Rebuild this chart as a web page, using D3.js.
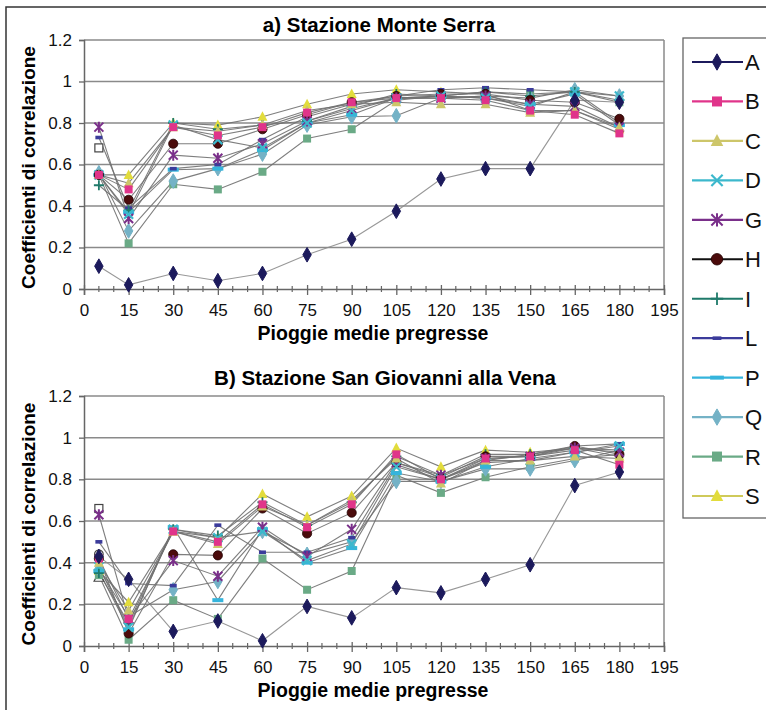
<!DOCTYPE html>
<html><head><meta charset="utf-8">
<script src="https://cdn.jsdelivr.net/npm/d3@7"></script>
<style>body{margin:0;background:#fff}svg{display:block}text{font-family:"Liberation Sans",Arial,sans-serif}</style>
</head><body>
<svg id="c" width="766" height="710"></svg>
<script>
// ---------- DATA ----------
const xValues = [5,15,30,45,60,75,90,105,120,135,150,165,180];
const xTicks = [0,15,30,45,60,75,90,105,120,135,150,165,180,195];
const yTicks = [0,0.2,0.4,0.6,0.8,1,1.2];
const seriesNames = ["A","B","C","D","G","H","I","L","P","Q","R","S"];

const topTitle = "a) Stazione Monte Serra";
const bottomTitle = "B) Stazione San Giovanni alla Vena";
const xLabel = "Pioggie medie pregresse";
const yLabel = "Coefficienti di correlazione";

// Stazione Monte Serra
const topA = [0.11,0.02,0.075,0.04,0.075,0.165,0.24,0.375,0.53,0.58,0.58,0.91,0.90];
const topB = [0.55,0.48,0.78,0.74,0.78,0.85,0.90,0.92,0.92,0.91,0.86,0.84,0.75];
const topC = [0.55,0.51,0.78,0.76,0.79,0.86,0.89,0.90,0.89,0.89,0.85,0.86,0.78];
const topD = [0.55,0.36,0.79,0.72,0.68,0.80,0.86,0.92,0.93,0.92,0.88,0.95,0.93];
const topG = [0.78,0.34,0.645,0.63,0.70,0.81,0.87,0.92,0.92,0.93,0.89,0.88,0.78];
const topH = [0.55,0.43,0.70,0.70,0.77,0.84,0.90,0.93,0.94,0.94,0.91,0.90,0.82];
const topI = [0.50,0.38,0.80,0.77,0.79,0.81,0.88,0.94,0.93,0.95,0.93,0.95,0.91];
const topL = [0.73,0.39,0.58,0.60,0.72,0.83,0.89,0.93,0.96,0.97,0.96,0.95,0.80];
const topP = [0.55,0.37,0.575,0.58,0.67,0.80,0.84,0.92,0.93,0.92,0.89,0.94,0.79];
const topQ = [0.56,0.28,0.52,0.58,0.65,0.79,0.83,0.835,0.92,0.93,0.92,0.96,0.93];
const topR = [0.55,0.22,0.505,0.48,0.565,0.725,0.77,0.91,0.93,0.95,0.94,0.95,0.90];
const topS = [0.55,0.55,0.80,0.79,0.83,0.89,0.94,0.96,0.95,0.94,0.86,0.86,0.77];
const topOpenSquare = [0.68];
const topOpenCircle = [0.55];
const topOpenTriangle = [];

// Stazione San Giovanni alla Vena
const botA = [0.43,0.32,0.07,0.12,0.025,0.19,0.135,0.28,0.255,0.32,0.39,0.77,0.835];
const botB = [0.42,0.13,0.55,0.50,0.68,0.57,0.68,0.92,0.80,0.90,0.91,0.94,0.87];
const botC = [0.40,0.17,0.55,0.49,0.67,0.58,0.70,0.90,0.78,0.89,0.89,0.91,0.90];
const botD = [0.38,0.09,0.56,0.52,0.55,0.41,0.49,0.86,0.80,0.88,0.89,0.93,0.96];
const botG = [0.63,0.13,0.41,0.335,0.57,0.43,0.56,0.88,0.82,0.90,0.91,0.95,0.93];
const botH = [0.42,0.06,0.44,0.435,0.66,0.54,0.64,0.88,0.81,0.91,0.91,0.96,0.92];
const botI = [0.35,0.11,0.56,0.53,0.69,0.58,0.69,0.91,0.82,0.92,0.92,0.95,0.94];
const botL = [0.50,0.30,0.29,0.58,0.45,0.45,0.52,0.87,0.80,0.89,0.92,0.96,0.97];
const botP = [0.36,0.08,0.57,0.22,0.56,0.40,0.47,0.83,0.79,0.86,0.90,0.93,0.97];
const botQ = [0.37,0.14,0.27,0.31,0.55,0.44,0.50,0.79,0.79,0.85,0.85,0.89,0.94];
const botR = [0.34,0.03,0.22,0.13,0.42,0.27,0.36,0.82,0.735,0.81,0.86,0.90,0.92];
const botS = [0.36,0.21,0.55,0.52,0.73,0.62,0.72,0.95,0.86,0.94,0.93,0.95,0.91];
const botOpenSquare = [0.66];
const botOpenCircle = [0.44];
const botOpenTriangle = [0.33];

// ---------- STYLE ----------
const style = {
  A:{shape:"diamond", color:"#1c1a5c", line:"#1c1a5c"},
  B:{shape:"square", color:"#e0348a", line:"#e0348a"},
  C:{shape:"triangle", color:"#cdc66a", line:"#cdc66a"},
  D:{shape:"x", color:"#3cb8cc", line:"#3cb8cc"},
  G:{shape:"asterisk", color:"#7a2f8a", line:"#7a2f8a"},
  H:{shape:"circle", color:"#4b0b0b", line:"#111"},
  I:{shape:"plus", color:"#1f7a6a", line:"#1f7a6a"},
  L:{shape:"dash", color:"#3b3b9b", line:"#3b3b9b"},
  P:{shape:"wdash", color:"#35b4dc", line:"#35b4dc"},
  Q:{shape:"diamond", color:"#74b2c6", line:"#74b2c6"},
  R:{shape:"square", color:"#6aaa86", line:"#6aaa86"},
  S:{shape:"triangle", color:"#e2dc3c", line:"#cfca5a"}
};

const topData = {A:topA,B:topB,C:topC,D:topD,G:topG,H:topH,I:topI,L:topL,P:topP,Q:topQ,R:topR,S:topS};
const botData = {A:botA,B:botB,C:botC,D:botD,G:botG,H:botH,I:botI,L:botL,P:botP,Q:botQ,R:botR,S:botS};

const svg = d3.select("#c");
const FONT = "Liberation Sans, Arial, sans-serif";

// outer frame
svg.append("path").attr("d","M6,712 L6,7 L770,7").attr("fill","none").attr("stroke","#333").attr("stroke-width",1.5);

function marker(g, shape, color, cx, cy, s) {
  s = s || 1;
  if (shape === "diamond") {
    g.append("path").attr("d", d3.symbol(d3.symbolDiamond, 62*s)()).attr("transform",`translate(${cx},${cy})`).attr("fill",color).attr("stroke",color);
  } else if (shape === "square") {
    g.append("rect").attr("x",cx-4*s).attr("y",cy-4*s).attr("width",8*s).attr("height",8*s).attr("fill",color);
  } else if (shape === "triangle") {
    g.append("path").attr("d", `M${cx},${cy-5.5*s}L${cx+5*s},${cy+4*s}L${cx-5*s},${cy+4*s}Z`).attr("fill",color);
  } else if (shape === "x") {
    const r = 4.5*s;
    g.append("path").attr("d",`M${cx-r},${cy-r}L${cx+r},${cy+r}M${cx-r},${cy+r}L${cx+r},${cy-r}`).attr("stroke",color).attr("stroke-width",2.2);
  } else if (shape === "asterisk") {
    const r = 4.5*s;
    g.append("path").attr("d",`M${cx-r},${cy-r}L${cx+r},${cy+r}M${cx-r},${cy+r}L${cx+r},${cy-r}M${cx},${cy-r-1}L${cx},${cy+r+1}`).attr("stroke",color).attr("stroke-width",2);
  } else if (shape === "circle") {
    g.append("circle").attr("cx",cx).attr("cy",cy).attr("r",4.6*s).attr("fill",color).attr("stroke","#200").attr("stroke-width",0.8);
  } else if (shape === "plus") {
    const r = 5*s;
    g.append("path").attr("d",`M${cx-r},${cy}L${cx+r},${cy}M${cx},${cy-r}L${cx},${cy+r}`).attr("stroke",color).attr("stroke-width",1.8);
  } else if (shape === "dash") {
    g.append("rect").attr("x",cx-3.5*s).attr("y",cy-1.8).attr("width",7*s).attr("height",3.6).attr("fill",color);
  } else if (shape === "wdash") {
    g.append("rect").attr("x",cx-5.5*s).attr("y",cy-2).attr("width",11*s).attr("height",4).attr("fill",color);
  } else if (shape === "osquare") {
    g.append("rect").attr("x",cx-4).attr("y",cy-4).attr("width",8).attr("height",8).attr("fill","#fff").attr("stroke","#444").attr("stroke-width",1.2);
  } else if (shape === "ocircle") {
    g.append("circle").attr("cx",cx).attr("cy",cy).attr("r",4.3).attr("fill","#fff").attr("stroke","#444").attr("stroke-width",1.2);
  } else if (shape === "otriangle") {
    g.append("path").attr("d", `M${cx},${cy-5}L${cx+4.8},${cy+4}L${cx-4.8},${cy+4}Z`).attr("fill","#fff").attr("stroke","#444").attr("stroke-width",1.2);
  }
}

function panel(cfg) {
  const x = d3.scaleLinear().domain([0,195]).range([84,664]);
  const y = d3.scaleLinear().domain([0,1.2]).range([cfg.y0, cfg.y1]);
  const g = svg.append("g");

  // gridlines
  g.selectAll(".grid").data(yTicks.filter(d=>d>0)).enter().append("line")
    .attr("x1",x(0)).attr("x2",x(195)).attr("y1",d=>y(d)).attr("y2",d=>y(d))
    .attr("stroke","#8a8a8a").attr("stroke-width",1.5);
  // right border
  g.append("line").attr("x1",x(195)).attr("x2",x(195)).attr("y1",y(1.2)).attr("y2",y(0)).attr("stroke","#8a8a8a").attr("stroke-width",1.5);

  // y axis
  const ya = d3.axisLeft(y).tickValues(yTicks).tickFormat(d=>d3.format("~g")(d)).tickSize(5).tickPadding(7);
  const yg = g.append("g").attr("transform",`translate(${x(0)},0)`).call(ya);
  yg.select(".domain").attr("stroke","#666").attr("stroke-width",1.5);
  yg.selectAll(".tick line").attr("stroke","#666").attr("stroke-width",1.3);
  yg.selectAll("text").attr("font-size",17).attr("font-family",FONT).attr("fill","#111");

  // x axis minor ticks
  const minor = d3.range(0,196,5).filter(d=>d%15!==0);
  g.selectAll(".mt").data(minor).enter().append("line")
    .attr("x1",d=>x(d)).attr("x2",d=>x(d)).attr("y1",y(0)-3).attr("y2",y(0)+3)
    .attr("stroke","#666").attr("stroke-width",1.2);
  const xa = d3.axisBottom(x).tickValues(xTicks).tickSize(6).tickPadding(9);
  const xg = g.append("g").attr("transform",`translate(0,${y(0)})`).call(xa);
  xg.select(".domain").attr("stroke","#666").attr("stroke-width",1.5);
  xg.selectAll(".tick line").attr("stroke","#666").attr("stroke-width",1.3).attr("y1",-4);
  xg.selectAll("text").attr("font-size",17).attr("font-family",FONT).attr("fill","#111");

  // lines
  const line = d3.line().x((d,i)=>x(xValues[i])).y(d=>y(d));
  seriesNames.forEach(n=>{
    g.append("path").datum(cfg.data[n]).attr("d",line).attr("fill","none")
      .attr("stroke", n==="A" ? "#8c8c8c" : "#707070").attr("stroke-width",1.1).attr("stroke-opacity",0.9);
  });
  // extra open markers at first x
  cfg.openSquare.forEach(v=>marker(g,"osquare",null,x(xValues[0]),y(v)));
  cfg.openCircle.forEach(v=>marker(g,"ocircle",null,x(xValues[0]),y(v)));
  cfg.openTriangle.forEach(v=>marker(g,"otriangle",null,x(xValues[0]),y(v)));
  // markers
  seriesNames.slice().reverse().forEach(n=>{
    cfg.data[n].forEach((v,i)=>marker(g, style[n].shape, style[n].color, x(xValues[i]), y(v)));
  });

  // titles
  svg.append("text").attr("x",cfg.titleX).attr("y",cfg.titleY).attr("text-anchor","middle")
    .attr("font-size",20.5).attr("font-weight","bold").attr("font-family",FONT).text(cfg.title);
  svg.append("text").attr("x",373).attr("y",y(0)+51).attr("text-anchor","middle")
    .attr("font-size",19.5).attr("font-weight","bold").attr("font-family",FONT).text(xLabel);
  svg.append("text").attr("transform",`translate(35,${(y(0)+y(1.2))/2+3}) rotate(-90)`).attr("text-anchor","middle")
    .attr("font-size",19).attr("font-weight","bold").attr("font-family",FONT).text(yLabel);
}

panel({data:topData, y0:289, y1:40, title:topTitle, titleX:379, titleY:32,
  openSquare:topOpenSquare, openCircle:topOpenCircle, openTriangle:topOpenTriangle});
panel({data:botData, y0:646, y1:396, title:bottomTitle, titleX:385, titleY:385,
  openSquare:botOpenSquare, openCircle:botOpenCircle, openTriangle:botOpenTriangle});

// legend
const lg = svg.append("g");
lg.append("rect").attr("x",683).attr("y",38).attr("width",100).attr("height",480)
  .attr("fill","#fff").attr("stroke","#666").attr("stroke-width",1.3);
const ly = d3.scalePoint().domain(seriesNames).range([62,496]);
seriesNames.forEach(n=>{
  const yy = ly(n);
  lg.append("line").attr("x1",692).attr("x2",743).attr("y1",yy).attr("y2",yy)
    .attr("stroke",style[n].line).attr("stroke-width",2.2);
  marker(lg, style[n].shape, style[n].color, 717, yy, 1.25);
  lg.append("text").attr("x",745).attr("y",yy+8).attr("font-size",22).attr("font-family",FONT).attr("fill","#111").text(n);
});
</script>
</body></html>
